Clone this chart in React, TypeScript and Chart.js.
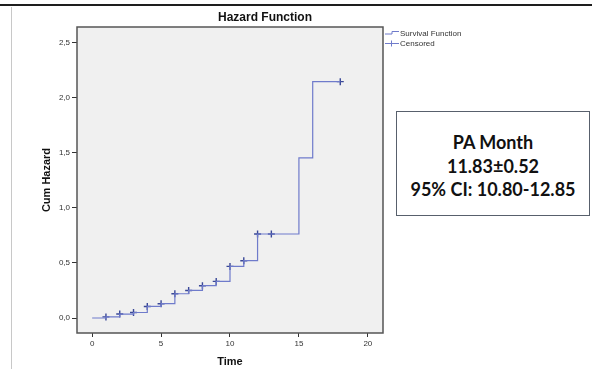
import { useEffect, useRef } from 'react';
import { Chart, registerables } from 'chart.js';

Chart.register(...registerables);

// ---- data ----
const times = [0, 1, 2, 3, 4, 5, 6, 7, 8, 9, 10, 11, 12, 13, 15, 16, 18];
const cumHazard = [0, 0.01, 0.036, 0.05, 0.105, 0.13, 0.22, 0.25, 0.293, 0.332, 0.468, 0.52, 0.762, 0.762, 1.452, 2.144, 2.144];
const censoredTimes = [1, 2, 3, 4, 5, 6, 7, 8, 9, 10, 11, 12, 13, 18];
const censoredHazard = [0.01, 0.036, 0.05, 0.105, 0.13, 0.22, 0.25, 0.293, 0.332, 0.468, 0.52, 0.762, 0.762, 2.144];
const xTicks = [0, 5, 10, 15, 20];
const yTicks = [0, 0.5, 1, 1.5, 2, 2.5];
const titleText = 'Hazard Function';
const xTitle = 'Time';
const yTitle = 'Cum Hazard';
const legendLabels = ['Survival Function', 'Censored'];
const boxLines = ['PA Month', '11.83±0.52', '95% CI: 10.80-12.85'];

const LINE = '#6f7bcb';
const MARK = '#3a4898';
const FONT = "'Liberation Sans', Arial, sans-serif";

const decor = {
  id: 'decor',
  beforeDraw(chart: any) {
    const { ctx, chartArea: a } = chart;
    ctx.save();
    ctx.fillStyle = '#ffffff';
    ctx.fillRect(0, 0, chart.width, chart.height);
    ctx.fillStyle = '#f0f0f0';
    ctx.fillRect(a.left, a.top, a.right - a.left, a.bottom - a.top);
    ctx.restore();
  },
  afterDraw(chart: any) {
    const { ctx, chartArea: a } = chart;
    ctx.save();
    // plot frame
    ctx.strokeStyle = '#555555';
    ctx.lineWidth = 1.5;
    ctx.strokeRect(a.left, a.top, a.right - a.left, a.bottom - a.top);
    // page top rule
    ctx.strokeStyle = '#1e1e1e';
    ctx.lineWidth = 2;
    ctx.beginPath();
    ctx.moveTo(0, 5);
    ctx.lineTo(chart.width, 5);
    ctx.stroke();
    // left grey rule
    ctx.strokeStyle = '#c8c8c8';
    ctx.lineWidth = 1;
    ctx.beginPath();
    ctx.moveTo(11.5, 7);
    ctx.lineTo(11.5, chart.height);
    ctx.stroke();
    // title
    ctx.fillStyle = '#111';
    ctx.textAlign = 'center';
    ctx.textBaseline = 'middle';
    ctx.font = `bold 12px ${FONT}`;
    ctx.fillText(titleText, 265, 18);
    // x title
    ctx.font = `bold 11px ${FONT}`;
    ctx.fillText(xTitle, 230, 362);
    // y title
    ctx.save();
    ctx.translate(46.5, 180);
    ctx.rotate(-Math.PI / 2);
    ctx.fillText(yTitle, 0, 0);
    ctx.restore();
    // legend
    ctx.strokeStyle = LINE;
    ctx.lineWidth = 1;
    ctx.beginPath();
    ctx.moveTo(385, 34);
    ctx.lineTo(392, 34);
    ctx.lineTo(392, 31.5);
    ctx.lineTo(399, 31.5);
    ctx.stroke();
    ctx.beginPath();
    ctx.moveTo(385, 43.5);
    ctx.lineTo(399, 43.5);
    ctx.moveTo(391.5, 40.5);
    ctx.lineTo(391.5, 46.5);
    ctx.stroke();
    ctx.fillStyle = '#333';
    ctx.textAlign = 'left';
    ctx.font = `8px ${FONT}`;
    ctx.fillText(legendLabels[0], 400, 33.5);
    ctx.fillText(legendLabels[1], 400, 43.5);
    ctx.restore();
  },
};

export default function App() {
  const ref = useRef<HTMLCanvasElement>(null);
  useEffect(() => {
    const chart = new Chart(ref.current as HTMLCanvasElement, {
      type: 'line',
      data: {
        datasets: [
          {
            label: legendLabels[0],
            data: times.map((t, i) => ({ x: t, y: cumHazard[i] })),
            stepped: 'before',
            borderColor: LINE,
            borderWidth: 1.2,
            pointRadius: 0,
            fill: false,
          },
          {
            label: legendLabels[1],
            data: censoredTimes.map((t, i) => ({ x: t, y: censoredHazard[i] })),
            showLine: false,
            pointStyle: 'cross',
            pointRadius: 3.5,
            pointBorderWidth: 1.4,
            pointBorderColor: MARK,
            borderColor: MARK,
          },
        ],
      },
      options: {
        responsive: false,
        devicePixelRatio: 1,
        animation: false,
        events: [],
        layout: { padding: { left: 0, top: 27, right: 209, bottom: 0 } },
        plugins: {
          legend: { display: false },
          tooltip: { enabled: false },
          title: { display: false },
        },
        scales: {
          x: {
            type: 'linear',
            min: -1.1,
            max: 21.1,
            afterBuildTicks: (s: any) => {
              s.ticks = xTicks.map((v) => ({ value: v }));
            },
            afterFit: (s: any) => {
              s.height = 36;
            },
            grid: { drawOnChartArea: false, drawTicks: true, tickLength: 4, color: '#333' },
            border: { display: false },
            ticks: {
              autoSkip: false,
              maxRotation: 0,
              padding: 2,
              color: '#333',
              font: { family: FONT, size: 8 },
              callback: (v: any) => String(v),
            },
          },
          y: {
            type: 'linear',
            min: -0.136,
            max: 2.64,
            afterBuildTicks: (s: any) => {
              s.ticks = yTicks.map((v) => ({ value: v }));
            },
            afterFit: (s: any) => {
              s.width = 77;
            },
            grid: { drawOnChartArea: false, drawTicks: true, tickLength: 5, color: '#333' },
            border: { display: false },
            ticks: {
              autoSkip: false,
              padding: 2,
              color: '#333',
              font: { family: FONT, size: 8 },
              callback: (v: any) => Number(v).toFixed(1).replace('.', ','),
            },
          },
        },
      },
      plugins: [decor],
    } as any);
    return () => chart.destroy();
  }, []);

  return (
    <div style={{ position: 'absolute', left: 0, top: 0, width: 592, height: 369, background: '#fff', overflow: 'hidden' }}>
      <canvas ref={ref} width={592} height={369} style={{ position: 'absolute', left: 0, top: 0, width: 592, height: 369 }} />
      <div
        style={{
          position: 'absolute',
          left: 396,
          top: 111,
          width: 194,
          height: 105,
          boxSizing: 'border-box',
          border: '1.5px solid #58606c',
          background: '#fff',
          fontFamily: 'Lato, sans-serif',
          fontWeight: 700,
          color: '#111',
        }}
      >
        {boxLines.map((t, i) => (
          <div
            key={i}
            style={{
              position: 'absolute',
              left: 0,
              right: 0,
              top: 18 + i * 23.7,
              height: 24,
              lineHeight: '24px',
              fontSize: 18,
              textAlign: 'center',
              whiteSpace: 'nowrap',
            }}
          >
            {t}
          </div>
        ))}
      </div>
    </div>
  );
}
